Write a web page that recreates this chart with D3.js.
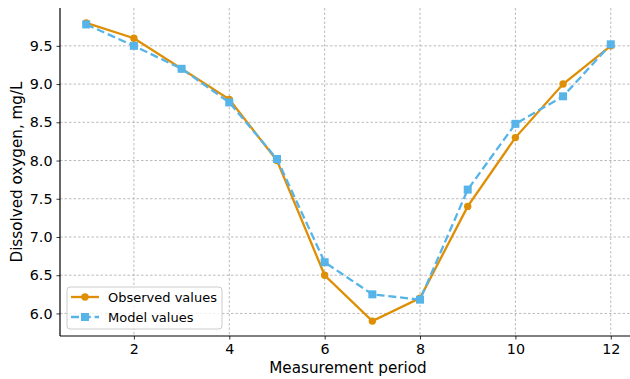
<!DOCTYPE html>
<html><head><meta charset="utf-8">
<script src="https://cdn.jsdelivr.net/npm/d3@7"></script>
<style>body{margin:0;background:#fff;} svg{display:block;font-family:"DejaVu Sans",sans-serif;}</style>
</head><body>
<script>
const periods = [1,2,3,4,5,6,7,8,9,10,11,12];
const observed = [9.8,9.6,9.2,8.8,8.0,6.5,5.9,6.2,7.4,8.3,9.0,9.5];
const model = [9.78,9.5,9.2,8.76,8.02,6.67,6.25,6.18,7.62,8.48,8.84,9.52];
const xTicks = [2,4,6,8,10,12];
const yTicks = [6.0,6.5,7.0,7.5,8.0,8.5,9.0,9.5];
const seriesNames = ["Observed values","Model values"];

const W=630,H=379;
const svg=d3.select("body").append("svg").attr("width",W).attr("height",H);
const L=60,T=8,B=336,R=637;
const x=d3.scaleLinear().domain([0.45,12.55]).range([L,R]);
const y=d3.scaleLinear().domain([5.705,9.995]).range([B,T]);

// grid
const g=svg.append("g");
g.selectAll(".gx").data(xTicks).enter().append("line")
 .attr("x1",d=>x(d)).attr("x2",d=>x(d)).attr("y1",T).attr("y2",B)
 .attr("stroke","#aaaaaa").attr("stroke-width",0.8).attr("stroke-dasharray","2.5,2");
g.selectAll(".gy").data(yTicks).enter().append("line")
 .attr("x1",L).attr("x2",W).attr("y1",d=>y(d)).attr("y2",d=>y(d))
 .attr("stroke","#aaaaaa").attr("stroke-width",0.8).attr("stroke-dasharray","2.5,2");

// axes
const xa=svg.append("g").attr("transform",`translate(0,${B})`)
 .call(d3.axisBottom(x).tickValues(xTicks).tickSize(3.5).tickPadding(4).tickFormat(d3.format("d")));
const ya=svg.append("g").attr("transform",`translate(${L},0)`)
 .call(d3.axisLeft(y).tickValues(yTicks).tickSize(3.5).tickPadding(4).tickFormat(d3.format(".1f")));
[xa,ya].forEach(a=>{
  a.select(".domain").remove();
  a.selectAll("text").attr("font-family","DejaVu Sans").attr("font-size",14.3).attr("fill","#000");
  a.selectAll("line").attr("stroke","#000").attr("stroke-width",0.8);
});
svg.append("line").attr("x1",L).attr("x2",L).attr("y1",T).attr("y2",B).attr("stroke","#000").attr("stroke-width",1.2);
svg.append("line").attr("x1",L).attr("x2",W).attr("y1",B).attr("y2",B).attr("stroke","#000").attr("stroke-width",1.2);

svg.append("text").attr("x",348).attr("y",373).attr("text-anchor","middle")
 .attr("font-size",15.2).text("Measurement period");
svg.append("text").attr("transform","translate(22,172) rotate(-90)").attr("text-anchor","middle")
 .attr("font-size",15.2).text("Dissolved oxygen, mg/L");

const cO="#DE8F05", cM="#56B4E9";
const line=d3.line().x((d,i)=>x(periods[i])).y(d=>y(d));
svg.append("path").datum(observed).attr("d",line).attr("fill","none").attr("stroke",cO).attr("stroke-width",2.3);
svg.selectAll(".mo").data(observed).enter().append("circle")
 .attr("cx",(d,i)=>x(periods[i])).attr("cy",d=>y(d)).attr("r",3.7).attr("fill",cO);
svg.append("path").datum(model).attr("d",line).attr("fill","none").attr("stroke",cM).attr("stroke-width",2.3).attr("stroke-dasharray","8,3.8");
svg.selectAll(".mm").data(model).enter().append("rect")
 .attr("x",(d,i)=>x(periods[i])-4).attr("y",d=>y(d)-4).attr("width",8).attr("height",8).attr("fill",cM);

// legend
const lg=svg.append("g");
lg.append("rect").attr("x",67).attr("y",287).attr("width",155).attr("height",42).attr("rx",3)
 .attr("fill","#fff").attr("fill-opacity",0.8).attr("stroke","#ccc").attr("stroke-width",1);
[[cO,"circle",297],[cM,"rect",317]].forEach((s,i)=>{
  const yy=s[2];
  lg.append("line").attr("x1",71).attr("x2",99).attr("y1",yy).attr("y2",yy).attr("stroke",s[0]).attr("stroke-width",2.3)
   .attr("stroke-dasharray",i?"8,3.8":null);
  if(s[1]==="circle") lg.append("circle").attr("cx",85).attr("cy",yy).attr("r",3.7).attr("fill",s[0]);
  else lg.append("rect").attr("x",81).attr("y",yy-4).attr("width",8).attr("height",8).attr("fill",s[0]);
  lg.append("text").attr("x",108).attr("y",yy+4.5).attr("font-size",13).text(seriesNames[i]);
});
</script>
</body></html>
